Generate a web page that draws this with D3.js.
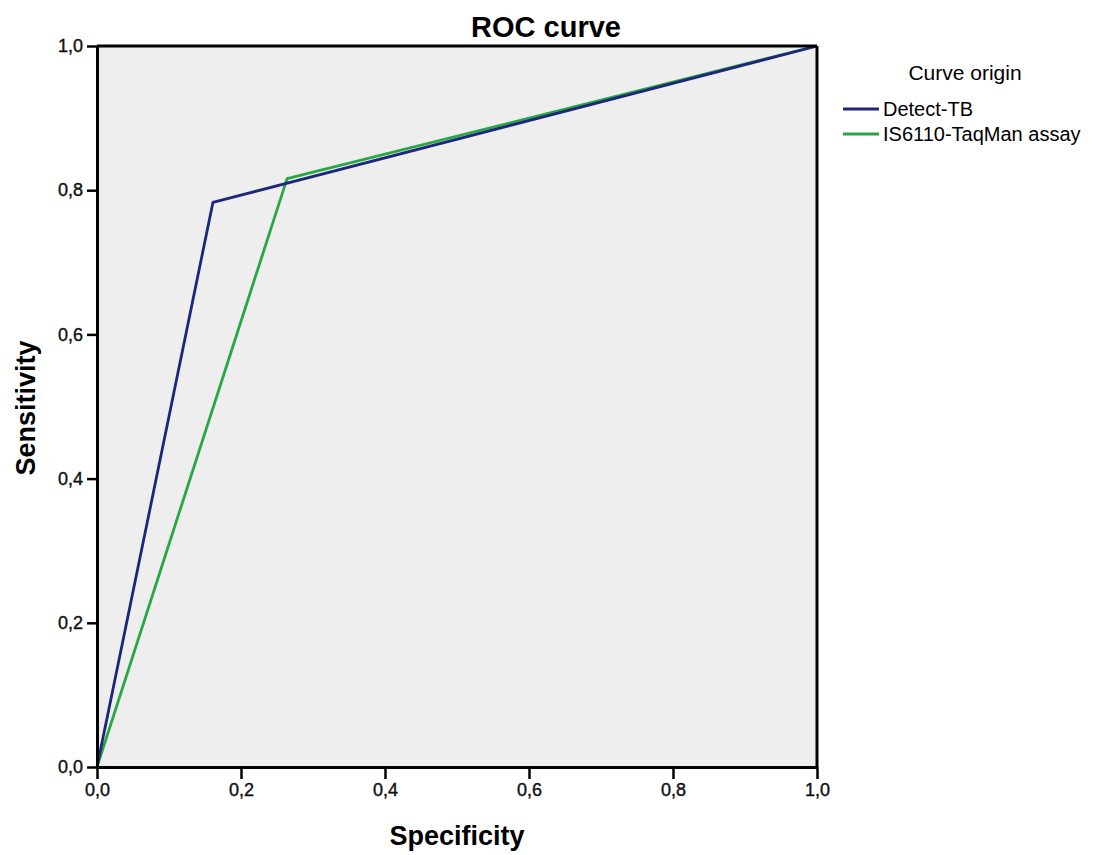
<!DOCTYPE html>
<html>
<head>
<meta charset="utf-8">
<script src="https://cdn.jsdelivr.net/npm/d3@7"></script>
<style>
  body { margin: 0; background: #fff; }
  text { font-family: "Liberation Sans", Arial, sans-serif; }
</style>
</head>
<body>
<script>
// ROC data (specificity axis as drawn, sensitivity)
const seriesNames = ['Detect-TB', 'IS6110-TaqMan assay'];
const seriesColors = ['#1c267a', '#27a844'];
const detectX = [0, 0.161, 1];
const detectY = [0, 0.783, 1];
const taqmanX = [0, 0.264, 1];
const taqmanY = [0, 0.816, 1];
const tickValues = [0, 0.2, 0.4, 0.6, 0.8, 1.0];

const width = 1093, height = 855;
const margin = { top: 46, left: 97, right: 276, bottom: 88 };

const svg = d3.select('body')
  .append('svg')
  .attr('width', width)
  .attr('height', height);

const xscale = d3.scaleLinear()
  .domain([0, 1])
  .range([margin.left, width - margin.right]);
const yscale = d3.scaleLinear()
  .domain([0, 1])
  .range([height - margin.bottom, margin.top]);

const fmt = d => d3.format('.1f')(d).replace('.', ',');

// plot background
svg.append('rect')
  .attr('x', xscale(0))
  .attr('y', yscale(1))
  .attr('width', xscale(1) - xscale(0))
  .attr('height', yscale(0) - yscale(1))
  .attr('fill', '#eeeeee');

// lines - green first so the dark blue sits on top where they overlap
const line = d3.line().x(d => xscale(d[0])).y(d => yscale(d[1]));
const series = [
  d3.zip(detectX, detectY),
  d3.zip(taqmanX, taqmanY)
];
[1, 0].forEach(i => {
  svg.append('path')
    .datum(series[i])
    .attr('d', line)
    .attr('fill', 'none')
    .attr('stroke', seriesColors[i])
    .attr('stroke-width', 2.8)
    .attr('stroke-linejoin', 'round');
});

// axes
const xaxis = svg.append('g')
  .attr('transform', `translate(0, ${yscale(0)})`)
  .call(d3.axisBottom(xscale).tickValues(tickValues).tickFormat(fmt)
    .tickSize(12).tickPadding(4).tickSizeOuter(0));
const yaxis = svg.append('g')
  .attr('transform', `translate(${xscale(0)}, 0)`)
  .call(d3.axisLeft(yscale).tickValues(tickValues).tickFormat(fmt)
    .tickSize(10).tickPadding(4).tickSizeOuter(0));

[xaxis, yaxis].forEach(a => {
  a.select('.domain').attr('stroke', '#000').attr('stroke-width', 3);
  a.selectAll('.tick line').attr('stroke', '#000').attr('stroke-width', 2.5);
  a.selectAll('.tick text')
    .attr('fill', '#111')
    .attr('stroke', '#111')
    .attr('stroke-width', 0.4)
    .style('font-size', '18px')
    .style('font-family', '"Liberation Sans", Arial, sans-serif');
});

// top & right frame
svg.append('line')
  .attr('x1', xscale(0)).attr('x2', xscale(1))
  .attr('y1', yscale(1)).attr('y2', yscale(1))
  .attr('stroke', '#000').attr('stroke-width', 3);
svg.append('line')
  .attr('x1', xscale(1)).attr('x2', xscale(1))
  .attr('y1', yscale(1)).attr('y2', yscale(0))
  .attr('stroke', '#000').attr('stroke-width', 3);

// title
svg.append('text')
  .text('ROC curve')
  .attr('x', 546)
  .attr('y', 37)
  .attr('text-anchor', 'middle')
  .style('font-size', '29px')
  .style('font-weight', 'bold');

// axis labels
svg.append('text')
  .text('Specificity')
  .attr('x', 457)
  .attr('y', 845)
  .attr('text-anchor', 'middle')
  .style('font-size', '27px')
  .style('font-weight', 'bold');

svg.append('text')
  .text('Sensitivity')
  .attr('transform', `translate(35, 408) rotate(-90)`)
  .attr('text-anchor', 'middle')
  .style('font-size', '27px')
  .style('font-weight', 'bold');

// legend
const legend = svg.append('g').attr('transform', 'translate(843, 0)');
legend.append('text')
  .text('Curve origin')
  .attr('x', 122)
  .attr('y', 80)
  .attr('text-anchor', 'middle')
  .style('font-size', '21px');
seriesNames.forEach((name, i) => {
  const y = 109 + i * 25;
  legend.append('line')
    .attr('x1', 0).attr('x2', 36)
    .attr('y1', y).attr('y2', y)
    .attr('stroke', seriesColors[i])
    .attr('stroke-width', 3);
  legend.append('text')
    .text(name)
    .attr('x', 40)
    .attr('y', y + 7)
    .style('font-size', '20px');
});
</script>
</body>
</html>
